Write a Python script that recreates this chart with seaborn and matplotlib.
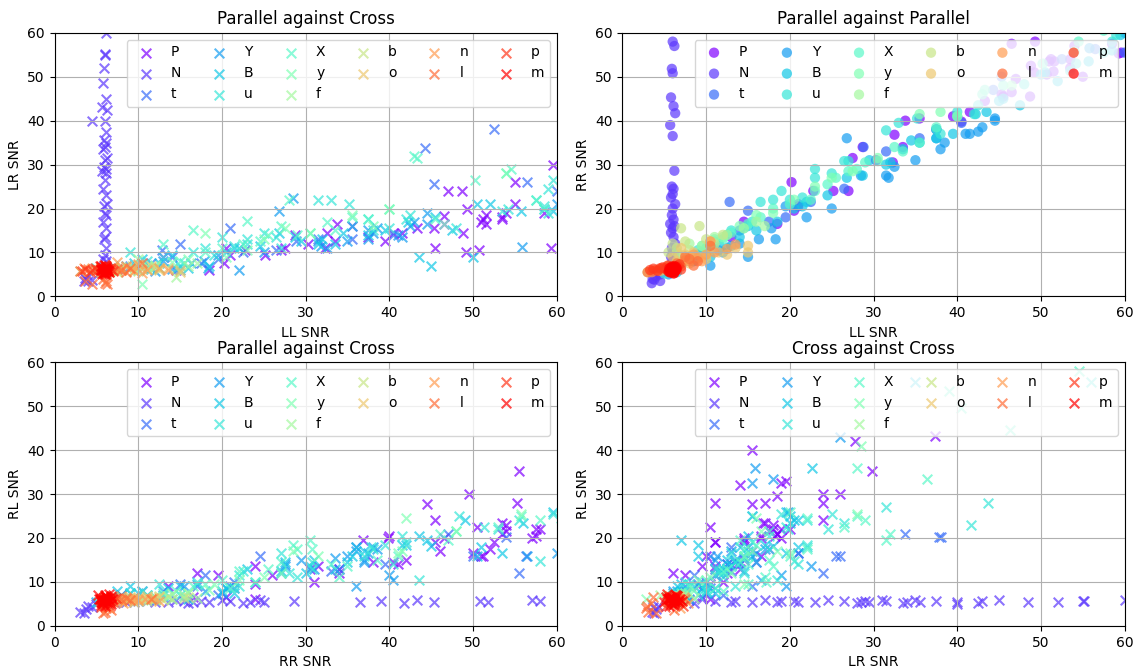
import numpy as np
import pandas as pd
import matplotlib
matplotlib.use("Agg")
import matplotlib.pyplot as plt
import seaborn as sns

# Source labels, in plotting / legend order
sources = ["P", "N", "t", "Y", "B", "u", "X", "y", "f", "b", "o", "n", "l", "p", "m"]

# Per-detection SNR for each source: (LL, RR, LR, RL)
P_snr = [
    (13.0, 13.5, 9.0, 9.0), (14.5, 17.0, 6.0, 12.0), (18.5, 16.5, 6.0, 6.5),
    (20.2, 26.0, 7.5, 11.5), (20.5, 19.5, 11.0, 11.5), (21.0, 20.5, 9.5, 6.5),
    (22.8, 24.0, 10.5, 6.0), (25.2, 24.0, 9.5, 13.5), (27.0, 24.0, 10.5, 9.5),
    (27.5, 31.5, 11.0, 13.5), (28.7, 34.0, 14.0, 13.0), (30.3, 31.0, 12.0, 10.0),
    (32.3, 30.5, 11.0, 13.0), (32.5, 36.8, 14.5, 19.5), (33.5, 34.0, 12.5, 12.0),
    (33.8, 40.0, 16.5, 20.5), (35.5, 40.5, 16.0, 14.5), (37.5, 38.0, 13.5, 14.5),
    (39.5, 41.0, 12.5, 14.0), (40.5, 39.8, 14.5, 20.0), (41.5, 42.0, 14.5, 15.0),
    (43.3, 44.5, 15.5, 27.8), (45.3, 46.0, 15.5, 17.0), (45.5, 45.5, 11.0, 19.0),
    (46.5, 46.5, 16.5, 20.0), (47.0, 49.5, 24.0, 30.0), (48.7, 45.5, 24.0, 24.0),
    (48.8, 52.5, 14.5, 19.0), (49.2, 51.0, 10.0, 16.0), (50.7, 50.5, 10.5, 22.5),
    (51.0, 53.5, 17.0, 23.5), (51.2, 54.0, 17.5, 21.5), (51.6, 53.5, 18.5, 21.0),
    (51.5, 51.2, 16.5, 16.0), (53.5, 52.0, 17.5, 17.5), (54.0, 57.0, 19.0, 20.0),
    (55.0, 61.0, 26.0, 30.0), (58.5, 57.5, 19.0, 22.0), (59.3, 55.3, 11.0, 28.0),
    (59.6, 55.5, 29.8, 35.3), (49.3, 58.0, 20.0, 22.0), (55.0, 50.0, 21.0, 16.5),
    (53.5, 54.0, 18.0, 23.0), (46.5, 57.5, 18.2, 20.5),
    (70.0, 72.0, 15.5, 40.0), (65.0, 68.0, 14.0, 32.0), (75.0, 78.0, 17.0, 28.0),
    (73.0, 76.0, 16.8, 23.5), (78.0, 82.0, 18.5, 29.5), (80.0, 85.0, 19.0, 32.5),
    (82.0, 84.0, 19.5, 33.0), (95.0, 98.0, 27.8, 42.0), (80.0, 83.0, 24.0, 28.0),
    (72.0, 70.0, 18.0, 22.0), (70.0, 68.0, 18.5, 21.0), (100.0, 110.0, 37.3, 43.3),
    (66.0, 64.0, 11.0, 19.0), (62.0, 65.0, 13.0, 14.0),
]
N_snr = [
    (6.0, 58.0, 55.2, 5.6), (6.2, 57.0, 60.0, 5.8), (5.9, 51.8, 52.0, 5.4),
    (6.0, 50.8, 55.0, 5.6), (5.8, 45.3, 48.5, 5.5), (6.1, 43.3, 45.0, 5.9),
    (6.3, 41.7, 42.5, 5.3), (5.7, 39.0, 43.0, 5.6), (6.0, 36.5, 40.0, 5.5),
    (6.2, 28.6, 37.5, 5.7), (5.9, 25.0, 35.5, 5.4), (6.1, 24.5, 35.0, 5.8),
    (6.0, 23.3, 34.0, 5.5), (5.8, 22.5, 33.5, 5.2), (6.3, 21.0, 31.5, 5.6),
    (6.0, 20.0, 31.0, 5.9), (5.9, 18.5, 29.5, 5.4), (6.1, 17.5, 29.0, 5.7),
    (5.7, 16.5, 28.5, 5.5), (6.2, 16.0, 28.0, 5.3), (6.0, 15.5, 26.5, 5.6),
    (5.8, 14.5, 24.5, 5.8), (6.1, 13.5, 23.0, 5.5), (6.3, 12.0, 21.0, 5.4),
    (5.9, 11.0, 20.5, 5.7), (6.0, 10.0, 19.0, 5.6), (6.2, 9.5, 18.5, 5.5),
    (5.8, 9.0, 17.0, 5.8), (6.1, 8.5, 15.5, 5.4), (6.0, 8.0, 13.5, 5.6),
    (5.9, 7.5, 13.0, 5.5), (6.2, 7.0, 11.0, 5.7), (6.0, 6.8, 9.5, 6.0),
    (5.8, 7.2, 8.5, 5.3), (6.1, 6.5, 8.0, 5.9), (4.5, 5.0, 40.0, 5.0),
    (3.5, 3.0, 3.5, 3.2), (3.8, 3.8, 4.0, 3.8), (4.0, 4.5, 3.6, 4.2),
    (3.6, 4.0, 4.2, 4.6), (4.5, 3.5, 3.8, 3.0),
]
t_snr = [
    (7.5, 8.0, 6.2, 7.0), (9.0, 9.5, 7.0, 6.5), (11.5, 10.5, 7.5, 8.0),
    (12.8, 21.5, 10.5, 8.5), (14.0, 15.0, 9.0, 9.5), (15.0, 19.5, 12.0, 7.0),
    (17.5, 17.0, 7.5, 9.0), (19.5, 18.0, 8.5, 11.5), (21.0, 21.0, 15.5, 9.0),
    (22.5, 21.5, 10.0, 10.0), (26.5, 24.5, 10.5, 16.0), (28.8, 34.0, 12.5, 13.0),
    (31.5, 33.0, 13.0, 12.5), (35.5, 36.0, 13.0, 18.0), (40.5, 39.5, 14.0, 14.0),
    (44.3, 47.0, 33.7, 21.0), (45.3, 50.0, 25.5, 16.0), (52.5, 54.0, 38.0, 20.3),
    (60.0, 55.5, 24.0, 12.0), (56.5, 56.3, 26.0, 16.0), (70.0, 72.0, 37.8, 20.3),
]
Y_snr = [
    (5.5, 5.0, 5.5, 5.5), (8.5, 8.0, 7.0, 7.0), (10.5, 7.0, 6.5, 6.5),
    (12.0, 10.0, 5.8, 6.2), (13.0, 11.5, 8.0, 6.0), (14.0, 12.0, 6.2, 5.8),
    (15.0, 9.0, 6.0, 7.5), (16.3, 13.0, 7.5, 7.0), (17.8, 15.5, 8.0, 9.0),
    (18.3, 13.0, 6.5, 8.0), (19.5, 20.5, 9.5, 8.5), (22.0, 18.0, 6.0, 8.0),
    (25.0, 20.0, 10.0, 7.5), (26.8, 36.0, 19.5, 9.0), (28.5, 27.5, 22.5, 13.5),
    (31.5, 27.5, 12.5, 14.0), (31.8, 27.0, 11.5, 12.0), (32.5, 29.5, 11.0, 15.0),
    (35.0, 31.0, 12.5, 13.0), (37.5, 38.0, 15.0, 18.0), (37.5, 36.0, 13.0, 17.0),
    (38.0, 33.5, 14.5, 15.5), (38.5, 35.0, 15.5, 16.0), (41.0, 37.0, 14.0, 14.5),
    (41.5, 37.0, 13.5, 15.0), (42.5, 37.5, 16.0, 16.5), (43.0, 38.5, 17.0, 17.5),
    (44.5, 40.0, 19.0, 11.5), (44.5, 40.5, 16.5, 10.5), (55.8, 56.5, 11.3, 16.0),
    (60.0, 60.0, 21.0, 16.5),
    (68.0, 72.0, 15.8, 36.0), (62.0, 66.0, 15.5, 32.5), (70.0, 75.0, 18.0, 33.5),
    (72.0, 78.0, 26.0, 43.0), (64.0, 68.0, 15.5, 25.0), (66.0, 70.0, 19.8, 26.0),
]
B_snr = [
    (6.5, 5.5, 5.8, 6.0), (7.0, 7.5, 7.0, 8.0), (9.5, 10.0, 7.5, 7.5),
    (10.5, 9.0, 8.5, 9.0), (11.5, 12.0, 6.2, 6.5), (12.5, 11.0, 7.5, 7.0),
    (14.0, 13.5, 9.5, 8.5), (15.0, 16.0, 6.8, 6.0), (16.0, 15.0, 6.5, 9.0),
    (18.5, 17.0, 7.0, 9.5), (20.5, 20.0, 10.0, 8.0), (21.5, 20.5, 11.0, 8.5),
    (22.0, 21.5, 11.0, 7.5), (24.5, 23.0, 11.5, 13.0), (26.8, 27.0, 14.5, 12.5),
    (28.7, 27.5, 13.5, 14.5), (29.5, 31.0, 12.5, 15.0), (31.5, 30.0, 12.0, 12.0),
    (32.0, 30.5, 13.0, 13.5), (33.5, 33.5, 12.0, 13.0), (34.5, 35.5, 14.5, 16.0),
    (35.5, 35.0, 16.0, 14.5), (37.5, 36.0, 14.0, 18.0), (39.5, 37.0, 15.0, 17.0),
    (42.2, 41.5, 17.0, 18.5), (43.5, 42.0, 9.0, 18.5), (45.0, 44.5, 7.0, 19.5),
    (45.5, 45.0, 18.0, 18.2), (47.5, 43.5, 15.0, 20.5), (50.0, 50.5, 9.0, 16.0),
    (50.5, 51.0, 21.0, 18.0), (52.0, 49.0, 21.0, 24.0), (55.7, 53.5, 19.5, 16.5),
    (58.5, 56.0, 20.0, 23.5), (59.5, 59.5, 19.5, 25.8),
    (65.0, 70.0, 22.7, 36.0), (78.0, 80.0, 35.0, 55.5), (68.0, 72.0, 20.0, 25.0),
    (67.0, 69.0, 20.5, 24.0),
]
u_snr = [
    (5.0, 5.2, 6.5, 5.5), (8.0, 9.0, 6.5, 7.5), (9.0, 10.5, 10.0, 8.0),
    (10.0, 11.0, 6.0, 7.0), (11.0, 12.5, 8.0, 9.5), (12.5, 14.0, 6.5, 6.2),
    (13.0, 15.0, 9.0, 7.0), (14.5, 15.5, 6.3, 6.8), (15.5, 17.0, 7.5, 10.0),
    (16.5, 21.5, 10.0, 8.5), (18.0, 22.0, 11.0, 11.5), (19.0, 24.0, 9.5, 10.0),
    (20.0, 22.0, 13.5, 9.0), (21.5, 22.5, 11.5, 12.5), (23.0, 29.0, 12.0, 11.0),
    (23.0, 27.0, 13.0, 16.5), (25.0, 28.0, 14.5, 12.0), (26.5, 30.8, 13.5, 14.5),
    (27.0, 30.8, 11.0, 13.0), (31.5, 37.8, 22.0, 18.0), (33.0, 39.5, 22.0, 18.5),
    (35.2, 40.5, 21.0, 14.0), (37.5, 38.0, 17.5, 17.5), (38.0, 37.0, 15.0, 16.0),
    (40.0, 42.0, 15.5, 19.0), (42.0, 41.5, 17.5, 20.5), (42.5, 43.5, 18.5, 10.5),
    (48.0, 48.3, 15.5, 25.0), (53.5, 51.3, 19.5, 22.5), (54.2, 53.0, 19.8, 22.0),
    (57.5, 55.5, 22.0, 24.0), (58.5, 58.0, 20.5, 14.8), (59.0, 59.5, 19.0, 25.5),
    (59.5, 61.0, 26.5, 23.5), (59.0, 62.0, 24.5, 22.0),
    (90.0, 95.0, 43.7, 28.0), (85.0, 90.0, 41.7, 23.0), (105.0, 110.0, 56.0, 55.5),
    (70.0, 74.0, 31.5, 27.0), (72.0, 75.0, 25.0, 25.5),
]
X_snr = [
    (7.0, 8.0, 6.0, 6.5), (9.5, 11.5, 6.6, 6.1), (11.0, 13.0, 6.2, 6.7),
    (12.0, 13.0, 7.0, 7.5), (13.0, 14.5, 12.0, 8.0), (15.0, 16.5, 8.0, 9.0),
    (16.5, 18.0, 15.0, 9.5), (18.0, 20.0, 10.0, 10.5), (20.0, 21.0, 11.0, 8.5),
    (22.5, 22.0, 12.0, 12.5), (23.0, 24.0, 17.2, 10.0), (24.5, 25.5, 12.5, 13.0),
    (25.5, 27.0, 14.0, 14.5), (27.0, 28.5, 16.0, 18.5), (28.0, 29.0, 22.0, 17.5),
    (29.0, 30.5, 14.0, 19.5), (30.5, 30.8, 14.5, 17.5), (32.5, 34.0, 17.0, 11.0),
    (33.5, 33.0, 15.0, 14.0), (35.5, 35.0, 18.0, 13.5), (37.5, 38.5, 17.5, 15.0),
    (40.0, 41.0, 20.0, 16.0), (43.0, 46.0, 32.0, 21.0), (43.3, 47.0, 31.5, 19.5),
    (45.5, 48.0, 17.5, 21.5), (50.2, 53.0, 26.5, 22.5), (54.0, 55.7, 28.0, 25.0),
    (54.5, 58.0, 29.0, 24.0), (57.5, 60.5, 22.0, 24.5), (58.5, 62.0, 20.0, 26.0),
    (80.0, 85.0, 36.4, 33.5), (75.0, 80.0, 28.0, 36.0), (110.0, 115.0, 39.0, 53.5),
    (100.0, 105.0, 40.5, 49.5), (95.0, 100.0, 46.3, 44.5), (120.0, 130.0, 54.5, 58.0),
]
y_snr = [
    (5.0, 6.0, 6.0, 5.8), (8.0, 9.0, 6.5, 6.3), (10.5, 10.5, 2.8, 6.0),
    (12.0, 13.5, 7.2, 6.8), (14.0, 16.0, 7.8, 7.5), (16.0, 18.5, 8.5, 8.2),
    (18.0, 19.0, 14.5, 9.5), (20.5, 22.0, 9.0, 10.5), (23.0, 25.0, 10.5, 11.0),
    (25.0, 27.0, 13.0, 12.0), (27.5, 28.5, 15.5, 17.0), (30.5, 31.5, 14.5, 16.0),
    (35.5, 41.5, 18.5, 17.0), (40.0, 41.0, 20.0, 16.5), (46.5, 48.0, 16.5, 21.5),
    (54.0, 55.7, 28.0, 25.5), (38.0, 42.0, 16.0, 24.5), (85.0, 90.0, 28.5, 41.0),
]
f_snr = [
    (6.5, 10.0, 6.3, 6.2), (8.0, 12.0, 6.6, 6.5), (9.5, 11.5, 6.0, 5.8),
    (11.0, 13.5, 7.0, 6.6), (12.5, 14.0, 6.2, 7.2), (14.5, 15.5, 4.5, 7.0),
    (16.0, 17.0, 6.8, 6.4), (17.0, 16.0, 7.5, 7.5), (7.5, 8.5, 5.7, 6.0),
    (10.0, 9.5, 8.5, 6.3),
]
b_snr = [
    (3.0, 5.5, 5.8, 5.9), (6.0, 12.0, 6.2, 6.1), (6.5, 11.0, 5.9, 5.7),
    (7.0, 15.5, 6.5, 6.3), (8.0, 10.5, 6.0, 6.0), (9.2, 16.0, 6.8, 6.6),
    (10.0, 13.0, 5.7, 5.8), (11.0, 12.0, 6.3, 6.4), (12.0, 14.0, 6.6, 6.2),
    (6.8, 9.5, 6.1, 5.5), (7.5, 12.5, 5.5, 6.8), (5.5, 10.0, 6.4, 5.6),
]
o_snr = [
    (5.5, 7.0, 5.8, 6.0), (6.5, 8.0, 6.3, 5.7), (7.5, 9.5, 6.1, 6.3),
    (8.5, 10.0, 6.6, 5.9), (9.5, 9.0, 5.7, 6.2), (10.5, 12.5, 6.2, 6.6),
    (11.5, 10.0, 6.8, 6.0), (12.5, 9.5, 6.0, 5.5), (13.5, 11.0, 6.4, 6.4),
    (15.0, 11.5, 6.1, 6.0), (15.0, 10.0, 5.6, 6.3), (8.0, 7.5, 5.9, 5.4),
    (7.0, 11.0, 6.7, 6.8), (10.0, 8.5, 7.1, 5.8), (6.0, 9.0, 5.5, 6.5),
]
n_snr = [
    (4.5, 5.8, 6.2, 5.9), (5.5, 6.8, 5.6, 6.3), (7.0, 7.5, 6.6, 6.0),
    (8.0, 8.0, 5.9, 5.7), (9.0, 8.7, 6.3, 6.2), (10.0, 9.5, 7.4, 6.5),
    (11.0, 10.0, 6.1, 5.8), (12.5, 10.8, 6.5, 6.1), (13.5, 11.8, 6.0, 6.4),
    (7.5, 8.2, 7.8, 5.2), (6.2, 6.5, 6.9, 4.0), (9.5, 8.0, 5.7, 6.8),
    (3.5, 5.5, 6.4, 6.2), (8.5, 9.5, 6.8, 5.9), (10.5, 12.5, 5.4, 5.6),
]
l_snr = [
    (3.0, 5.5, 5.8, 5.6), (4.0, 6.0, 6.3, 6.0), (5.0, 6.5, 6.0, 5.4),
    (6.0, 6.0, 3.0, 3.2), (6.3, 6.2, 2.8, 4.0), (5.8, 5.8, 4.0, 2.8),
    (6.5, 7.5, 5.5, 6.2), (7.5, 9.0, 6.2, 5.8), (8.0, 8.5, 5.9, 6.4),
    (9.0, 8.0, 6.5, 6.0), (10.5, 11.5, 7.5, 6.2), (7.0, 6.8, 6.1, 3.5),
    (6.1, 5.9, 3.6, 6.6), (8.5, 7.0, 5.6, 5.5), (4.5, 6.2, 2.9, 4.4),
    (3.6, 5.8, 3.4, 5.1),
]
p_snr = [
    (3.3, 6.0, 5.8, 6.0), (3.7, 6.3, 6.2, 5.5), (4.2, 5.8, 5.5, 6.4),
    (4.8, 6.6, 6.4, 5.8), (5.2, 6.2, 5.9, 6.6), (5.6, 5.7, 6.6, 5.3),
    (6.0, 6.5, 5.3, 6.2), (6.3, 6.0, 6.0, 5.0), (6.6, 6.8, 6.5, 6.8),
    (7.0, 6.1, 5.7, 5.7), (5.4, 7.0, 6.8, 6.0), (6.2, 5.6, 5.1, 4.2),
    (4.5, 6.4, 6.1, 5.2), (6.8, 7.3, 6.3, 6.4), (5.9, 6.6, 7.2, 4.6),
]
m_snr = [
    (5.8, 5.9, 6.0, 5.8), (6.0, 6.2, 5.6, 6.1), (6.2, 5.7, 6.3, 5.5),
    (5.6, 6.4, 5.9, 6.4), (6.4, 6.0, 6.1, 5.9), (5.9, 5.5, 5.4, 6.2),
    (6.1, 6.6, 6.6, 5.6), (5.7, 6.1, 5.2, 6.6), (6.3, 5.8, 5.8, 5.2),
    (6.0, 6.0, 6.4, 6.9), (5.5, 5.6, 6.8, 5.4), (6.5, 6.3, 5.5, 6.3),
    (5.9, 6.8, 6.2, 5.0), (6.2, 5.3, 5.7, 6.0), (6.0, 5.9, 7.1, 5.7),
    (5.8, 6.5, 5.3, 7.2), (6.3, 6.1, 6.5, 6.7), (6.1, 5.6, 6.0, 4.8),
    (5.6, 5.8, 6.2, 5.9), (6.4, 6.7, 5.8, 6.5), (5.7, 5.4, 6.1, 6.2),
    (6.0, 6.3, 5.0, 5.5), (6.2, 6.9, 6.9, 6.0), (5.9, 6.0, 5.6, 4.5),
    (6.1, 5.2, 6.3, 7.0),
]

snr_by_source = {
    "P": P_snr, "N": N_snr, "t": t_snr, "Y": Y_snr, "B": B_snr, "u": u_snr,
    "X": X_snr, "y": y_snr, "f": f_snr, "b": b_snr, "o": o_snr, "n": n_snr,
    "l": l_snr, "p": p_snr, "m": m_snr,
}

frames = []
for name in sources:
    block = pd.DataFrame(snr_by_source[name], columns=["LL", "RR", "LR", "RL"])
    block["source"] = name
    frames.append(block)
df = pd.concat(frames, ignore_index=True)

colors = plt.cm.rainbow(np.linspace(0, 1, len(sources)))

panels = [
    ("LL", "LR", "x", "Parallel against Cross"),
    ("LL", "RR", "o", "Parallel against Parallel"),
    ("RR", "RL", "x", "Parallel against Cross"),
    ("LR", "RL", "x", "Cross against Cross"),
]

fig, axes = plt.subplots(2, 2, figsize=(11.36, 6.70), dpi=100)
fig.subplots_adjust(left=0.048, right=0.99, top=0.951, bottom=0.066,
                    hspace=0.25, wspace=0.131)

for ax, (xcol, ycol, marker, title) in zip(axes.flat, panels):
    for name, color in zip(sources, colors):
        sub = df[df["source"] == name]
        if marker == "x":
            sns.scatterplot(data=sub, x=xcol, y=ycol, color=color, marker="x",
                            s=48, alpha=0.7, linewidth=1.5, label=name, ax=ax)
        else:
            sns.scatterplot(data=sub, x=xcol, y=ycol, color=color, marker="o",
                            s=55, alpha=0.7, edgecolor="none", linewidth=0,
                            label=name, ax=ax)
    ax.set_xlim(0, 60)
    ax.set_ylim(0, 60)
    ax.grid(True)
    ax.set_title(title, fontsize=12)
    ax.set_xlabel(f"{xcol} SNR")
    ax.set_ylabel(f"{ycol} SNR")
    ax.legend(ncol=6, loc="upper right", columnspacing=1.7)

fig.savefig("out.png", dpi=100)
